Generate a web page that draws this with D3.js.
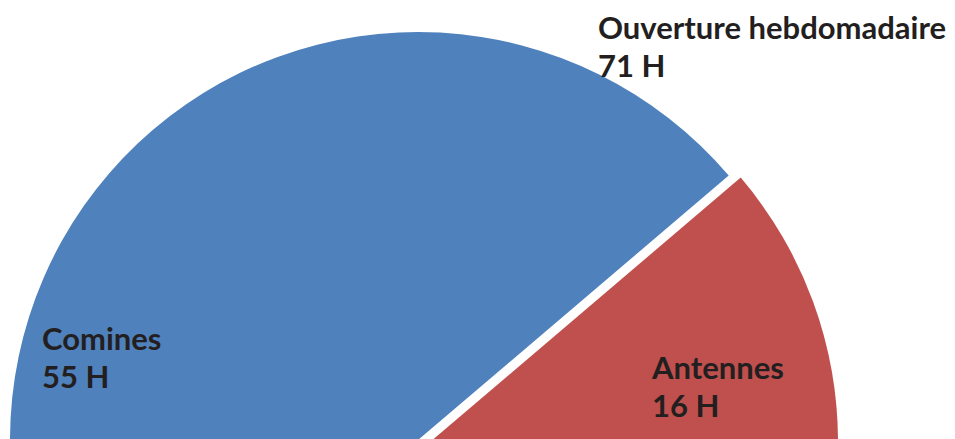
<!DOCTYPE html>
<html>
<head>
<meta charset="utf-8">
<script src="https://cdn.jsdelivr.net/npm/d3@7"></script>
<style>
  body { margin: 0; background: #fff; }
  svg { display: block; }
  text { font-family: Lato, "Open Sans", sans-serif; font-weight: bold; fill: #231f20; }
</style>
</head>
<body>
<script>
// Données
var categories = ["Comines", "Antennes"];
var heures = [55, 16];
var titre = "Ouverture hebdomadaire";
var total = 71;
var couleurs = ["#4f81bd", "#c0504d"];

// Dimensions
var width = 955, height = 439;
var cx = 418, cy = 440, rayon = 408;
var angleCoupure = 49.6 * Math.PI / 180; // bord haut de la part "Antennes"
var eclatement = 12;

var svg = d3.select("body")
  .append("svg")
  .attr("width", width)
  .attr("height", height);

var donnees = categories.map(function (c, i) { return { nom: c, valeur: heures[i] }; });

var debut = angleCoupure + 2 * Math.PI * heures[1] / d3.sum(heures);
var pie = d3.pie()
  .sort(null)
  .value(function (d) { return d.valeur; })
  .startAngle(debut)
  .endAngle(debut + 2 * Math.PI);

var arc = d3.arc().innerRadius(0).outerRadius(rayon);

var g = svg.append("g").attr("transform", "translate(" + cx + "," + cy + ")");

g.selectAll("path")
  .data(pie(donnees))
  .enter()
  .append("path")
  .attr("d", arc)
  .attr("fill", function (d, i) { return couleurs[i]; })
  .attr("transform", function (d, i) {
    if (i === 0) return null;
    var milieu = (d.startAngle + d.endAngle) / 2;
    return "translate(" + (Math.sin(milieu) * eclatement) + "," + (-Math.cos(milieu) * eclatement + 2) + ")";
  });

// Étiquettes
var etiquettes = [
  { l1: titre, l2: total + " H", x: 598, y: 39 },
  { l1: categories[0], l2: heures[0] + " H", x: 42, y: 350 },
  { l1: categories[1], l2: heures[1] + " H", x: 652, y: 379 }
];

etiquettes.forEach(function (e) {
  svg.append("text").attr("x", e.x).attr("y", e.y).style("font-size", "31px").text(e.l1);
  svg.append("text").attr("x", e.x).attr("y", e.y + 38).style("font-size", "31px").text(e.l2);
});
</script>
</body>
</html>
